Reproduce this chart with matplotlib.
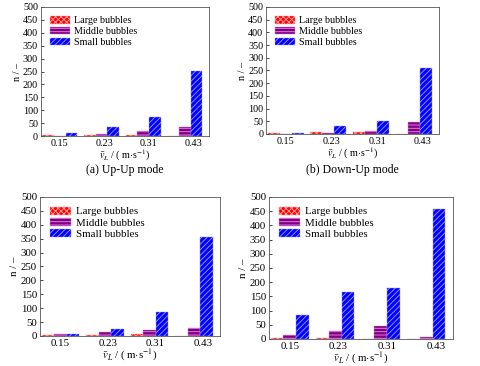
import numpy as np
import matplotlib
matplotlib.use('Agg')
import matplotlib.pyplot as plt
from matplotlib.patches import Patch

plt.rcParams['font.family'] = ['Liberation Serif', 'DejaVu Serif']
plt.rcParams['mathtext.fontset'] = 'stix'
plt.rcParams['hatch.linewidth'] = 0.7

# Datos
categorias = ['0.15', '0.23', '0.31', '0.43']
series = ['Large bubbles', 'Middle bubbles', 'Small bubbles']

up_up_large = [3, 3, 3, 0]
up_up_middle = [1, 8, 20, 34]
up_up_small = [14, 35, 75, 252]

down_up_large = [3, 8, 7, 0]
down_up_middle = [1, 4, 13, 48]
down_up_small = [4, 33, 52, 260]

c_large = [2, 5, 8, 0]
c_middle = [7, 13, 20, 29]
c_small = [6, 24, 87, 356]

d_large = [2, 2, 0, 0]
d_middle = [15, 29, 44, 7]
d_small = [85, 166, 178, 459]

legendas = ['(a) Up-Up mode', '(b) Down-Up mode']

# Estilos: (cor, cor da hachura, hachura)
estilos = [('#ff0000', '#ff9a9a', 'xxxxxx'),
           ('#800080', '#e07ae0', '-----'),
           ('#0000ff', '#8c8cff', '//////')]

# Posições dos eixos [esq, base, larg, alt]
posicoes = [[0.085, 0.628, 0.350, 0.353],
            [0.554, 0.634, 0.360, 0.347],
            [0.083, 0.082, 0.375, 0.380],
            [0.560, 0.074, 0.383, 0.388]]
tamanhos = [7.3, 7.3, 7.8, 7.8]

dados = [(up_up_large, up_up_middle, up_up_small),
         (down_up_large, down_up_middle, down_up_small),
         (c_large, c_middle, c_small),
         (d_large, d_middle, d_small)]

fig = plt.figure(figsize=(4.8, 3.66), dpi=100)
x = np.arange(len(categorias))
w = 0.28

for k, (pos, fs, grupo) in enumerate(zip(posicoes, tamanhos, dados)):
    ax = fig.add_axes(pos)
    for j, (valores, (cor, hc, h)) in enumerate(zip(grupo, estilos)):
        ax.bar(x + (j - 1) * w, valores, w, facecolor=cor, edgecolor=hc,
               hatch=h, linewidth=0.3, label=series[j])
    ax.set_xlim(-0.46, 3.58)
    ax.set_ylim(0, 500)
    ax.set_yticks(np.arange(0, 501, 50))
    ax.set_xticks(x + 0.07 * x)
    ax.set_xticklabels(categorias)
    ax.tick_params(axis='x', length=0, labelsize=fs, pad=2)
    ax.tick_params(axis='y', direction='in', length=2, width=0.5, labelsize=fs, pad=2)
    for s in ax.spines.values():
        s.set_linewidth(0.6)
        s.set_color('#555555')
    ax.set_xlabel(r'$\bar{v}_L$ / ( m$\cdot$s$^{-1}$)', fontsize=fs, labelpad=0)
    ax.set_ylabel(r'n / –', fontsize=fs, labelpad=1)
    handles = [Patch(facecolor=c, edgecolor=hc, hatch=h, linewidth=0.3)
               for c, hc, h in estilos]
    ax.legend(handles, series, loc='upper left', frameon=False, fontsize=fs,
              handlelength=2.0, handleheight=0.75, labelspacing=0.15,
              borderaxespad=0.5, handletextpad=0.4)
    if k < 2:
        fig.text(pos[0] + pos[2] / 2, 1 - 170 / 366, legendas[k],
                 ha='center', va='center', fontsize=8.5)

fig.savefig('out.png', dpi=100)
